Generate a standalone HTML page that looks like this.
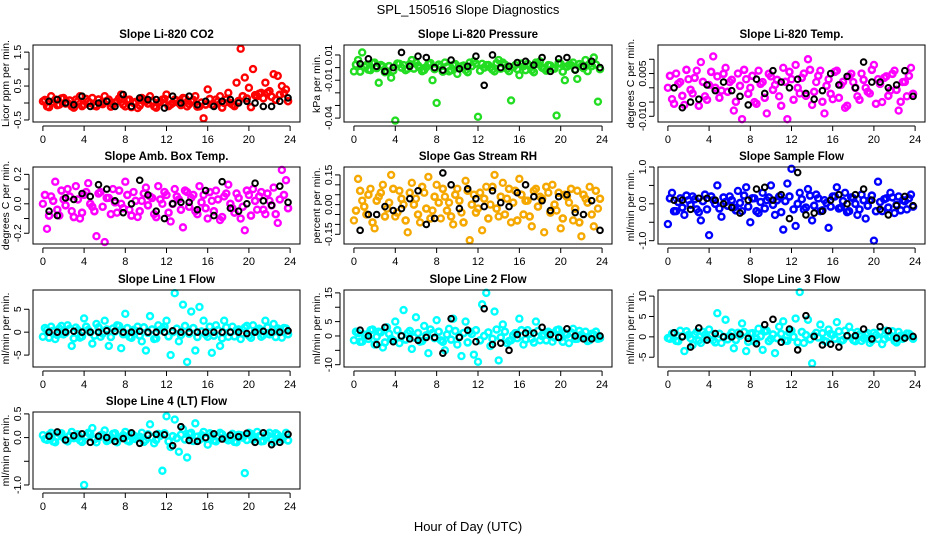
<!DOCTYPE html>
<html><head><meta charset="utf-8">
<style>
html,body{margin:0;padding:0;background:#fff;}
svg{display:block;font-family:"Liberation Sans",sans-serif;}
</style></head>
<body>
<svg id="chart" width="936" height="540" viewBox="0 0 936 540" xmlns="http://www.w3.org/2000/svg">
<rect width="936" height="540" fill="#fff"/>
<text x="468" y="14" text-anchor="middle" font-size="13">SPL_150516  Slope Diagnostics</text>
<text x="468" y="531" text-anchor="middle" font-size="13">Hour of Day (UTC)</text>
<g id="plots"></g>
</svg>
<script>
const colorHours=[0,0.4,0.8,1.2,1.6,2,2.4,2.8,3.2,3.6,4,4.4,4.8,5.2,5.6,6,6.4,6.8,7.2,7.6,8,8.4,8.8,9.2,9.6,10,10.4,10.8,11.2,11.6,12,12.4,12.8,13.2,13.6,14,14.4,14.8,15.2,15.6,16,16.4,16.8,17.2,17.6,18,18.4,18.8,19.2,19.6,20,20.4,20.8,21.2,21.6,22,22.4,22.8,23.2,23.6];
const bandHours=[0.2,0.6,1,1.4,1.8,2.2,2.6,3,3.4,3.8,4.2,4.6,5,5.4,5.8,6.2,6.6,7,7.4,7.8,8.2,8.6,9,9.4,9.8,10.2,10.6,11,11.4,11.8,12.2,12.6,13,13.4,13.8,14.2,14.6,15,15.4,15.8,16.2,16.6,17,17.4,17.8,18.2,18.6,19,19.4,19.8,20.2,20.6,21,21.4,21.8,22.2,22.6,23,23.4,23.8];
const blackHours=[0.6,1.4,2.2,3,3.8,4.6,5.4,6.2,7,7.8,8.6,9.4,10.2,11,11.8,12.6,13.4,14.2,15,15.8,16.6,17.4,18.2,19,19.8,20.6,21.4,22.2,23,23.8];
const xTicks=[0,4,8,12,16,20,24];
const titles=["Slope Li-820 CO2","Slope Li-820 Pressure","Slope Li-820 Temp.","Slope Amb. Box Temp.","Slope Gas Stream RH","Slope Sample Flow","Slope Line 1 Flow","Slope Line 2 Flow","Slope Line 3 Flow","Slope Line 4 (LT) Flow"];
const yTitles=["Licor ppm per min.","kPa per min.","degrees C per min.","degrees C per min.","percent per min.","ml/min per min.","ml/min per min.","ml/min per min.","ml/min per min.","ml/min per min."];
const seriesColors=["#ff0000","#22dd22","#ff00ff","#ff00ff","#f5a800","#0000ff","#00ffff","#00ffff","#00ffff","#00ffff"];
const yRanges=[[-0.56,1.71],[-0.0431,0.0179],[-0.012,0.015],[-0.273,0.25],[-0.199,0.19],[-1.09,1.0],[-7.6,9.2],[-10.8,16],[-7.4,11.5],[-1.085,0.54]];
const yTicks=[[-0.5,0,0.5,1,1.5],[-0.04,-0.03,-0.02,-0.01,0,0.01],[-0.01,-0.005,0,0.005,0.01],[-0.2,-0.1,0,0.1,0.2],[-0.15,-0.1,-0.05,0,0.05,0.1,0.15],[-1,-0.5,0,0.5,1],[-5,0,5],[-10,-5,0,5,10,15],[-5,0,5,10],[-1,-0.5,0,0.5]];
const yTickLabels=[["-0.5","","0.5","","1.5"],["-0.04","","","-0.01","","0.01"],["-0.010","","","0.005",""],["-0.2","","0.0","","0.2"],["-0.15","","","0.00","","","0.15"],["-1.0","","0.0","","1.0"],["-5","0","5"],["-10","","0","5","","15"],["-5","0","5","10"],["-1.0","","0.0","0.5"]];
const c1=[0.05,-0.1,0.2,0.1,-0.05,0.15,0.0,-0.1,0.1,0.2,-0.05,0.05,0.15,-0.1,0.0,0.2,0.1,-0.05,0.05,0.25,-0.1,0.1,0.0,-0.15,0.15,0.05,0.2,-0.1,0.0,0.1,0.25,-0.05,0.1,0.0,0.15,-0.1,0.05,0.2,-0.1,-0.45,0.4,-0.05,0.1,0.2,0.0,0.3,-0.05,0.6,1.6,0.75,0.45,1.0,0.2,0.3,0.6,0.35,0.85,0.8,0.5,0.4];
const b1=[0.09,-0.12,0.03,-0.06,0.135,-0.015,0.075,-0.135,0.045,-0.09,0.12,0,-0.075,0.105,-0.03,0.06,-0.105,0.015,0.135,-0.045,0.09,-0.12,0.03,-0.075,0.105,-0.015,0.06,-0.135,0.045,0.12,-0.09,0,0.075,-0.06,0.135,-0.03,0.09,-0.105,0.015,-0.045,0.12,-0.075,0.045,-0.135,0.105,0,-0.09,0.06,0.2,0.135,-0.12,0.23,0.275,0.14,0.305,0.185,0.095,0.245,0.29,0.055];
const k1=[0.05,0.1,0.0,-0.05,0.2,-0.1,0.0,0.05,-0.1,0.25,-0.1,0.15,0.1,0.1,-0.15,0.2,0.0,0.2,-0.05,0.05,-0.1,0.05,0.1,0.0,0.05,0.0,-0.1,-0.1,0.05,0.15];
const c2=[-0.003,0.006,0.012,0.002,-0.002,0.004,-0.012,0.001,-0.003,-0.008,-0.042,0.003,0.002,-0.001,0.006,0.004,0.0,-0.002,0.003,-0.01,-0.028,0.001,0.004,-0.003,0.002,-0.005,0.001,-0.002,0.004,0.005,-0.039,0.003,0.002,0.0,-0.003,0.006,0.004,-0.001,-0.026,0.002,-0.006,0.001,0.003,-0.002,0.004,0.005,-0.001,0.002,-0.001,-0.038,0.003,-0.01,0.002,0.004,-0.009,0.001,0.006,0.003,0.008,-0.027];
const b2=[0.0024,-0.0032,0.0008,-0.0016,0.0036,-0.0004,0.002,-0.0036,0.0012,-0.0024,0.0032,0,-0.002,0.0028,-0.0008,0.0016,-0.0028,0.0004,0.0036,-0.0012,0.0024,-0.0032,0.0008,-0.002,0.0028,-0.0004,0.0016,-0.0036,0.0012,0.0032,-0.0024,0,0.002,-0.0016,0.0036,-0.0008,0.0024,-0.0028,0.0004,-0.0012,0.0032,-0.002,0.0012,-0.0036,0.0028,0,-0.0024,0.0016,-0.0008,0.0036,-0.0032,0.0008,0.002,-0.0016,0.0028,-0.0004,-0.0028,0.0012,0.0024,-0.0012];
const k2=[0.003,0.007,0.001,-0.003,0.0,0.012,0.001,0.009,0.008,0.0,-0.002,0.006,-0.001,0.001,0.009,-0.014,0.01,0.0,0.001,0.004,0.005,0.002,0.008,-0.003,0.007,0.008,-0.002,0.001,0.005,0.0];
const c3=[0.0,-0.004,0.005,0.002,-0.006,0.003,-0.002,0.006,0.009,-0.003,0.001,0.011,0.004,-0.001,0.007,0.002,-0.008,0.005,-0.011,0.003,0.0,-0.005,0.006,0.002,-0.009,0.004,0.001,-0.003,0.007,-0.011,0.003,0.008,-0.002,0.005,0.010,-0.006,0.002,0.006,-0.009,0.003,-0.004,0.006,0.001,-0.007,0.004,0.002,-0.003,0.005,0.0,-0.002,0.008,0.003,-0.005,0.004,-0.001,0.006,-0.008,0.002,-0.003,0.007];
const b3=[0.0042,-0.0056,0.0014,-0.0028,0.0063,-0.0007,0.0035,-0.0063,0.0021,-0.0042,0.0056,0,-0.0035,0.0049,-0.0014,0.0028,-0.0049,0.0007,0.0063,-0.0021,0.0042,-0.0056,0.0014,-0.0035,0.0049,-0.0007,0.0028,-0.0063,0.0021,0.0056,-0.0042,0,0.0035,-0.0028,0.0063,-0.0014,0.0042,-0.0049,0.0007,-0.0021,0.0056,-0.0035,0.0021,-0.0063,0.0049,0,-0.0042,0.0028,-0.0014,0.0063,-0.0056,0.0014,0.0035,-0.0028,0.0049,-0.0007,-0.0049,0.0021,0.0042,-0.0021];
const k3=[0.0,-0.007,-0.005,-0.004,0.001,-0.001,0.002,-0.001,-0.003,-0.006,0.003,-0.002,0.006,0.002,0.0,0.003,-0.002,-0.004,-0.001,0.005,0.001,0.004,0.0,0.009,0.002,0.002,0.0,0.001,0.006,-0.003];
const c4=[0.0,-0.17,0.05,0.15,-0.08,0.03,0.1,-0.05,0.12,-0.1,0.06,0.14,-0.02,-0.22,0.08,-0.26,0.04,0.1,-0.06,0.0,0.15,-0.04,0.08,-0.09,0.02,0.11,0.05,-0.07,0.12,0.0,0.06,-0.12,0.1,0.03,-0.16,0.08,0.04,-0.05,0.12,0.06,-0.1,0.02,0.09,-0.11,0.05,0.13,-0.03,0.07,-0.1,-0.18,0.06,0.1,-0.04,0.08,-0.07,0.02,0.11,-0.13,0.23,0.16];
const b4=[0.06,-0.08,0.02,-0.04,0.09,-0.01,0.05,-0.09,0.03,-0.06,0.08,0,-0.05,0.07,-0.02,0.04,-0.07,0.01,0.09,-0.03,0.06,-0.08,0.02,-0.05,0.07,-0.01,0.04,-0.09,0.03,0.08,-0.06,0,0.05,-0.04,0.09,-0.02,0.06,-0.07,0.01,-0.03,0.08,-0.05,0.03,-0.09,0.07,0,-0.06,0.04,-0.02,0.09,-0.08,0.02,0.05,-0.04,0.07,-0.01,-0.07,0.03,0.06,-0.03];
const k4=[-0.05,-0.08,0.04,0.03,0.07,0.05,0.13,0.1,0.02,-0.06,0.0,0.16,0.06,-0.05,-0.1,0.0,0.01,0.01,-0.04,0.09,-0.08,0.15,-0.03,-0.05,0.0,0.14,0.02,-0.01,0.12,0.01];
const c5=[-0.08,0.13,0.02,-0.05,0.08,-0.12,0.04,0.1,-0.02,0.15,-0.06,0.07,0.0,-0.14,0.11,0.03,-0.09,0.06,0.14,-0.03,0.1,-0.07,0.04,0.01,-0.1,0.08,-0.04,0.12,-0.18,0.05,-0.02,-0.13,0.09,0.0,0.15,-0.06,0.11,0.03,-0.09,0.07,0.13,-0.05,0.02,-0.11,0.08,0.04,-0.14,0.06,0.1,-0.03,-0.12,0.05,0.01,-0.08,0.07,-0.16,0.03,0.09,-0.11,-0.02];
const b5=[-0.03,0.07,-0.01,0.05,-0.09,0.02,0.06,-0.06,0.01,0.08,-0.04,0.03,-0.08,0.06,0.0,-0.05,0.09,-0.02,-0.07,0.04,0.01,0.08,-0.03,-0.06,0.05,0.02,-0.09,0.07,0.0,-0.04,0.06,0.03,-0.07,0.09,-0.02,0.04,-0.05,0.08,0.01,-0.08,0.05,0.02,-0.06,0.07,-0.01,0.03,0.09,-0.04,0.0,0.06,-0.07,0.04,0.08,-0.02,-0.09,0.05,0.01,-0.05,0.07,0.03];
const k5=[-0.13,-0.05,-0.05,-0.01,-0.03,-0.02,0.03,0.07,-0.1,-0.07,0.16,0.1,-0.02,0.08,0.03,-0.01,0.07,0.01,-0.01,0.06,0.1,0.04,0.02,-0.03,0.04,0.05,-0.04,-0.05,0.02,-0.13];
const c6=[-0.55,0.3,-0.2,0.15,-0.3,0.1,0.2,-0.15,-0.45,0.25,-0.85,0.1,0.5,-0.35,0.05,0.2,-0.1,0.35,-0.2,0.45,-0.5,0.15,-0.25,0.3,0.1,0.5,-0.3,0.2,-0.7,0.55,0.95,-0.6,0.3,-0.15,0.4,-0.45,0.25,-0.2,0.1,-0.65,0.2,0.45,-0.1,0.3,-0.2,0.15,-0.3,0.25,-0.4,0.1,-1.0,0.6,-0.2,0.15,0.3,-0.25,0.2,0.1,-0.15,0.25];
const b6=[0.15,-0.2,0.05,-0.1,0.225,-0.025,0.125,-0.225,0.075,-0.15,0.2,0,-0.125,0.175,-0.05,0.1,-0.175,0.025,0.225,-0.075,0.15,-0.2,0.05,-0.125,0.175,-0.025,0.1,-0.225,0.075,0.2,-0.15,0,0.125,-0.1,0.225,-0.05,0.15,-0.175,0.025,-0.075,0.2,-0.125,0.075,-0.225,0.175,0,-0.15,0.1,-0.05,0.225,-0.2,0.05,0.125,-0.1,0.175,-0.025,-0.175,0.075,0.15,-0.075];
const k6=[0.1,0.1,-0.15,0.15,0.15,0.1,0.0,-0.1,-0.25,0.1,0.4,0.45,0.1,0.25,-0.4,0.85,-0.3,-0.25,-0.2,0.1,0.25,0.0,0.25,0.4,0.1,-0.15,-0.3,-0.05,0.2,-0.05];
const c7=[-1.0,0.5,1.2,-1.5,0.8,-0.5,1.5,-3.0,1.0,-1.2,3.0,0.5,-2.5,1.8,-1.0,2.5,-3.0,0.8,1.5,-3.5,4.0,-1.0,0.5,1.2,-2.0,-4.0,3.5,-1.5,1.5,0.8,2.5,-5.0,8.5,-2.0,6.0,-6.5,4.5,-4.0,5.5,2.5,-1.0,-4.5,1.5,-3.0,2.5,-1.0,1.2,0.5,-1.5,1.0,-0.8,1.5,0.5,-1.0,2.5,-0.5,1.8,0.8,-1.2,0.8];
const b7=[0.9,-1.2,0.3,-0.6,1.35,-0.15,0.75,-1.35,0.45,-0.9,1.2,0,-0.75,1.05,-0.3,0.6,-1.05,0.15,1.35,-0.45,0.9,-1.2,0.3,-0.75,1.05,-0.15,0.6,-1.35,0.45,1.2,-0.9,0,0.75,-0.6,1.35,-0.3,0.9,-1.05,0.15,-0.45,1.2,-0.75,0.45,-1.35,1.05,0,-0.9,0.6,-0.3,1.35,-1.2,0.3,0.75,-0.6,1.05,-0.15,-1.05,0.45,0.9,-0.45];
const k7=[0,0,0,0.2,0,0,0,0.3,0.2,0,0,0.2,0,0,0,0.3,0,0,0,0,0,0,0,0,-0.3,0,0.2,0,0,0.3];
const c8=[-1.5,1.0,-2.0,0.5,2.0,-3.0,1.5,-4.0,3.0,-1.0,5.0,-2.5,9.0,1.0,-4.5,6.5,-2.0,3.5,-6.0,1.0,5.5,-1.5,-5.0,2.5,6.0,-3.0,-7.0,5.0,1.5,-6.5,-9.0,11.0,15.0,-3.5,8.5,-8.5,4.0,-2.5,-1.5,1.0,6.0,-3.0,2.0,-1.0,5.0,-1.5,0.5,1.5,-2.0,2.0,-0.5,1.0,-2.5,2.5,-1.0,0.5,1.5,-1.5,0.5,-1.0];
const b8=[1.5,-2,0.5,-1,2.25,-0.25,1.25,-2.25,0.75,-1.5,2,0,-1.25,1.75,-0.5,1,-1.75,0.25,2.25,-0.75,1.5,-2,0.5,-1.25,1.75,-0.25,1,-2.25,0.75,2,-1.5,0,1.25,-1,2.25,-0.5,1.5,-1.75,0.25,-0.75,2,-1.25,0.75,-2.25,1.75,0,-1.5,1,-0.5,2.25,-2,0.5,1.25,-1,1.75,-0.25,-1.75,0.75,1.5,-0.75];
const k8=[2.0,0.0,-3.0,3.0,-2.0,0.0,-1.0,-1.5,-0.5,-0.5,-6.0,6.0,-0.5,2.0,-2.0,9.5,-3.0,-2.5,-5.0,0.5,1.0,1.0,3.0,0.5,-0.5,2.5,0.0,-1.0,-1.0,0.0];
const c9=[-0.3,0.8,-1.0,1.5,-3.5,0.5,-2.0,1.2,-1.5,0.5,1.8,-0.8,5.8,-1.5,4.2,0.3,-2.8,1.0,3.3,-3.5,0.8,-1.2,2.0,-3.2,1.5,-0.5,-4.0,2.5,3.8,-1.0,1.5,4.5,11.0,-1.5,4.2,-6.5,1.0,3.0,-1.0,1.8,0.5,3.6,-1.0,1.5,2.5,-0.8,1.2,-1.0,0.5,-1.5,1.0,-0.5,-1.8,1.5,0.3,-1.0,1.2,-0.5,0.8,0.3];
const b9=[-0.45,0.9,-1.05,0.15,1.35,-0.3,0.6,-0.9,1.2,-0.15,0.45,-1.35,0.75,0,-0.6,1.05,-0.75,0.3,1.2,-1.2,0.9,-0.45,0.15,1.35,-1.05,0.6,-0.3,0.75,-0.9,1.05,0,-1.35,1.2,0.45,-0.6,0.3,-0.15,0.9,-1.2,0.75,-0.45,1.35,-0.75,0.15,1.05,-1.05,0.6,-0.3,0.9,-0.9,0.45,1.2,-0.6,0,1.35,-1.35,0.3,-0.15,0.75,-0.45];
const k9=[1.0,0.0,-2.5,2.2,-0.8,0.8,0.0,0.0,0.7,-0.4,-1.7,3.0,4.3,-1.3,1.9,-3.2,5.2,0.1,-2.0,-1.8,-2.5,0.3,0.3,1.9,-0.5,2.5,1.5,-0.3,-0.3,0.1];
const c10=[0.05,-0.05,0.1,-0.1,0.08,0.0,-0.08,0.12,0.02,-0.06,-1.0,0.1,0.2,-0.1,0.05,0.15,-0.05,0.08,-0.1,0.0,0.12,-0.08,0.05,0.0,0.1,-0.05,0.28,-0.12,0.08,-0.7,0.45,-0.2,0.38,-0.3,0.18,-0.42,0.1,0.3,-0.05,0.12,-0.15,0.05,-0.08,0.1,0.0,-0.06,0.08,-0.1,0.05,-0.75,0.1,-0.05,0.12,-0.08,0.05,0.1,-0.1,0.06,-0.05,0.1];
const b10=[-0.03,0.06,-0.08,0.02,0.09,-0.05,0.04,-0.01,0.07,-0.09,0.03,0.08,-0.04,0.0,0.06,-0.07,0.01,0.09,-0.02,0.05,-0.06,0.08,-0.03,0.02,-0.09,0.07,0.0,-0.05,0.04,0.09,-0.08,0.03,-0.01,0.06,-0.04,0.08,-0.07,0.02,0.05,-0.02,0.09,-0.06,0.01,0.07,-0.03,0.04,-0.09,0.06,0.0,-0.05,0.08,-0.01,0.03,-0.07,0.05,-0.04,0.09,-0.02,0.02,-0.06];
const k10=[0.03,0.12,-0.05,0.04,0.08,-0.1,0.03,0.0,-0.08,-0.02,0.1,-0.12,0.05,0.07,0.06,-0.17,0.23,-0.06,-0.08,0.0,0.08,-0.03,0.05,0.02,0.09,-0.1,0.1,-0.15,-0.1,0.07];
const colorSeries=[c1,c2,c3,c4,c5,c6,c7,c8,c9,c10];
const bandSeries=[b1,b2,b3,b4,b5,b6,b7,b8,b9,b10];
const blackSeries=[k1,k2,k3,k4,k5,k6,k7,k8,k9,k10];

const NS="http://www.w3.org/2000/svg";
const colLeft=[33,344,658], colWidth=[267,268,267], rowTop=[45,167,290,412], boxH=77;
function mk(tag,attrs,parent){const e=document.createElementNS(NS,tag);for(const k in attrs)e.setAttribute(k,attrs[k]);parent.appendChild(e);return e;}
const root=document.getElementById('plots');
for(let p=0;p<10;p++){
  const L=colLeft[p%3], W=colWidth[p%3], T=rowTop[Math.floor(p/3)], B=T+boxH, R=L+W;
  const x0=-0.96, x1=24.96;
  const xs=v=>L+(v-x0)/(x1-x0)*W;
  const [ymin,ymax]=yRanges[p];
  const ys=v=>B-(v-ymin)/(ymax-ymin)*boxH;
  const g=mk('g',{},root);
  
  
  const t=mk('text',{x:(L+R)/2,y:T-7,'text-anchor':'middle','font-size':'11.5','font-weight':'bold'},g);
  t.textContent=titles[p];
  
  
  const yt=mk('text',{transform:`translate(${L-24},${(T+B)/2}) rotate(-90)`,'text-anchor':'middle','font-size':'10.5'},g);
  yt.textContent=yTitles[p];
  
  
  const xa=mk('g',{},g);
  
  
  mk('line',{x1:xs(xTicks[0]),x2:xs(xTicks[xTicks.length-1]),y1:B+4,y2:B+4,stroke:'#000'},xa);
  xTicks.forEach(v=>{
    mk('line',{x1:xs(v),x2:xs(v),y1:B+4,y2:B+9,stroke:'#000'},xa);
    const tl=mk('text',{x:xs(v),y:B+21,'text-anchor':'middle','font-size':'11'},xa);
    tl.textContent=v;
    
    
  });
  const ya=mk('g',{},g);
  
  
  const tks=yTicks[p];
  mk('line',{x1:L-4,x2:L-4,y1:ys(tks[0]),y2:ys(tks[tks.length-1]),stroke:'#000'},ya);
  tks.forEach((v,i)=>{
    mk('line',{x1:L-9,x2:L-4,y1:ys(v),y2:ys(v),stroke:'#000'},ya);
    const lab=yTickLabels[p][i];
    if(lab){
      const tl=mk('text',{transform:`translate(${L-12},${ys(v)}) rotate(-90)`,'text-anchor':'middle','font-size':'10.5'},ya);
      tl.textContent=lab;
      
      
    }
  });
  const col=seriesColors[p];
  bandSeries[p].forEach((v,i)=>{
    const c=mk('circle',{cx:xs(bandHours[i]),cy:ys(v),r:3,fill:'none',stroke:col,'stroke-width':2.6},g);
    
    
  });
  colorSeries[p].forEach((v,i)=>{
    const c=mk('circle',{cx:xs(colorHours[i]),cy:ys(v),r:3,fill:'none',stroke:col,'stroke-width':2.4},g);
    
    
  });
  blackSeries[p].forEach((v,i)=>{
    const c=mk('circle',{cx:xs(blackHours[i]),cy:ys(v),r:2.8,fill:'none',stroke:'#000','stroke-width':2},g);
    
    
  });
  const box=mk('rect',{x:L,y:T,width:W,height:boxH,fill:'none',stroke:'#000','stroke-width':1},g);
  
  
}
</script>
</body></html>
